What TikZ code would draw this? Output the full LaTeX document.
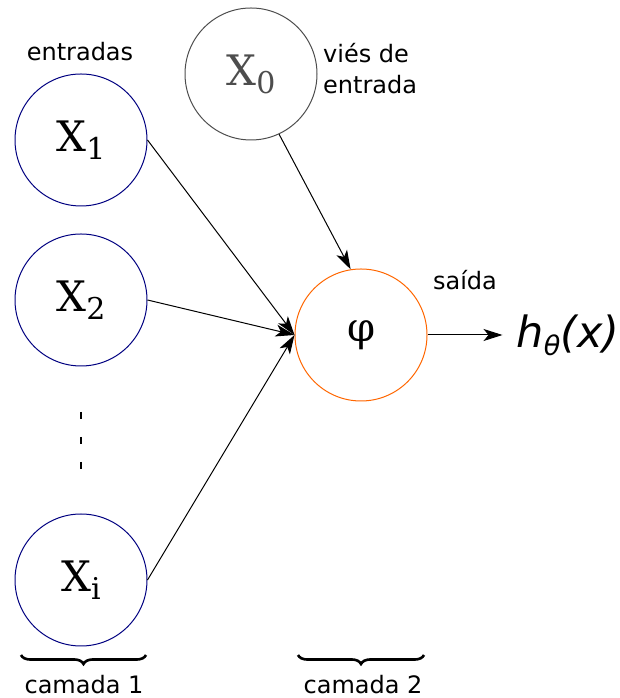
\documentclass[tikz,border=0pt]{standalone}
\usepackage{fontspec}
\setmainfont{DejaVu Serif}
\setsansfont{DejaVu Sans}
\usetikzlibrary{arrows.meta,positioning,decorations.pathreplacing}
\definecolor{redeNavy}{RGB}{0,0,128}
\definecolor{redeGray}{RGB}{77,77,77}
\definecolor{redeOrange}{RGB}{255,102,0}
\newcommand{\entradaX}[1]{X\raisebox{-8pt}{\fontsize{30}{30}\selectfont #1}}

\begin{document}
\begin{tikzpicture}[
  x=1pt, y=1pt,
  neuron/.style={
    draw,
    circle,
    line width=1pt,
    minimum size=132pt,
    inner sep=0pt,
    font=\fontsize{42}{42}\selectfont
  },
  arrow/.style={-{Stealth[length=19pt,width=12pt,inset=5pt]},line width=1pt},
  caption/.style={font=\sffamily\fontsize{24}{31}\selectfont},
  layer/.style={decorate,decoration={brace,mirror,amplitude=9pt},line width=2.6pt}
]
  \useasboundingbox (0,0) rectangle (620,698);

  \node[neuron,draw=redeNavy] (x1) at (81,558) {\entradaX{1}};
  \node[neuron,draw=redeNavy,below=27pt of x1] (x2) {\entradaX{2}};
  \node[neuron,draw=redeNavy,below=147pt of x2] (xi) {\entradaX{i}};
  \node[neuron,draw=redeGray,text=redeGray] (x0) at (251,624) {\entradaX{0}};
  \node[neuron,draw=redeOrange,font=\fontsize{40}{40}\selectfont] (phi) at (361,363) {φ};
  \coordinate[right=75pt of phi.east] (outtip);
  \node[right=14pt of outtip,inner sep=0pt,font=\sffamily\itshape\fontsize{43}{43}\selectfont] (out)
    {h\raisebox{-8pt}{\fontsize{27}{27}\selectfont θ}(x)};

  \node[caption,anchor=base] (entradas) at (80,637) {entradas};
  \node[caption,anchor=north west,align=left,inner sep=0pt] (vies) at (323,655) {viés de\\entrada};
  \node[caption,anchor=base] (saida) at (465,408) {saída};
  \node[caption,anchor=base] (camada1) at (84,5) {camada 1};
  \node[caption,anchor=base] (camada2) at (363,5) {camada 2};

  \coordinate (dotstop) at (81,286);
  \coordinate (dotsbot) at (81,229);
  \draw[line width=2.5pt,dash pattern=on 7pt off 18pt] (dotstop) -- (dotsbot);

  \draw[arrow] (x1.east) -- (phi.west);
  \draw[arrow] (x2.east) -- (phi.west);
  \draw[arrow] (xi.east) -- (phi.west);
  \draw[arrow] (x0.-65) -- (phi.99);
  \draw[arrow] (phi) -- (outtip);

  \draw[layer] (21,43) -- (146,43);
  \draw[layer] (298,43) -- (424,43);
\end{tikzpicture}
\end{document}
